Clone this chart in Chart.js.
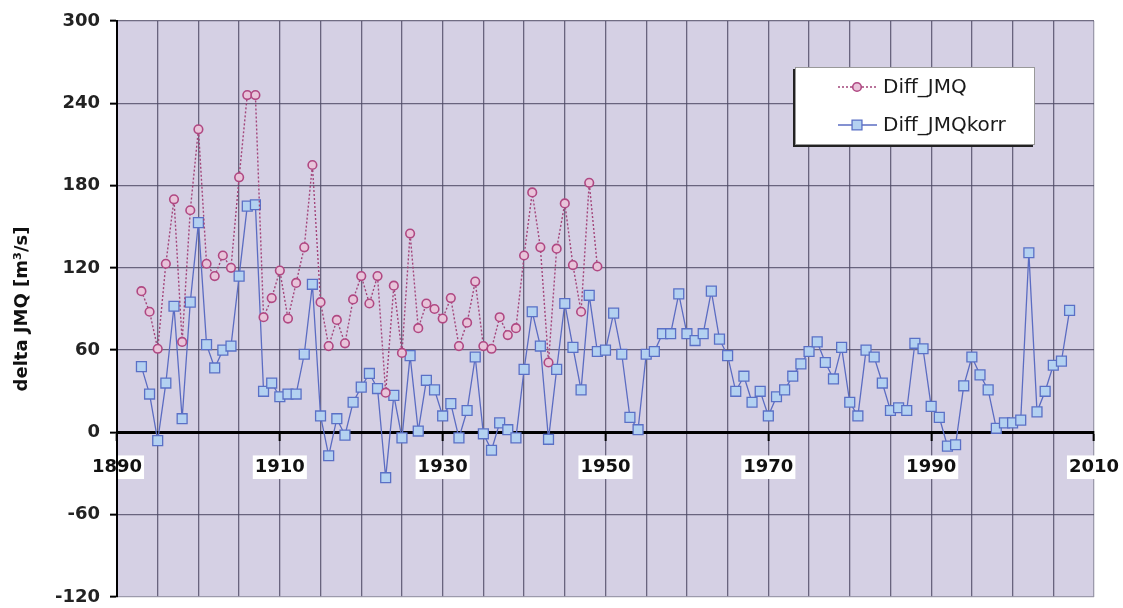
<!DOCTYPE html>
<html lang="de">
  <head>
    <meta charset="UTF-8" />
    <title>delta JMQ</title>
    <style>
      html, body { margin: 0; padding: 0; background: #fff; }
      .chart-view { width: 1123px; height: 608px; position: relative; }
    </style>
  </head>
  <body>
    <div class="chart-view">
      <canvas id="chart"></canvas>
    </div>

    <script src="https://cdn.jsdelivr.net/npm/chart.js@4.4.1/dist/chart.umd.min.js"></script>
    <script>
      //data
      const jmqStart = 1893;
      const diffJmq = [
        103, 88, 61, 123, 170, 66, 162, 221, 123, 114,
        129, 120, 186, 246, 246, 84, 98, 118, 83, 109,
        135, 195, 95, 63, 82, 65, 97, 114, 94, 114,
        29, 107, 58, 145, 76, 94, 90, 83, 98, 63,
        80, 110, 63, 61, 84, 71, 76, 129, 175, 135,
        51, 134, 167, 122, 88, 182, 121
      ];

      const korrStart = 1893;
      const diffJmqKorr = [
        48, 28, -6, 36, 92, 10, 95, 153, 64, 47,
        60, 63, 114, 165, 166, 30, 36, 26, 28, 28,
        57, 108, 12, -17, 10, -2, 22, 33, 43, 32,
        -33, 27, -4, 56, 1, 38, 31, 12, 21, -4,
        16, 55, -1, -13, 7, 2, -4, 46, 88, 63,
        -5, 46, 94, 62, 31, 100, 59, 60, 87, 57,
        11, 2, 57, 59, 72, 72, 101, 72, 67, 72,
        103, 68, 56, 30, 41, 22, 30, 12, 26, 31,
        41, 50, 59, 66, 51, 39, 62, 22, 12, 60,
        55, 36, 16, 18, 16, 65, 61, 19, 11, -10,
        -9, 34, 55, 42, 31, 3, 7, 7, 9, 131,
        15, 30, 49, 52, 89
      ];

      const seriesNames = ['Diff_JMQ', 'Diff_JMQkorr'];
      const yTitle = 'delta JMQ [m³/s]';

      const toPoints = (start, values) => values.map((v, i) => ({ x: start + i, y: v }));

      const gridColor = 'rgba(78, 72, 100, 0.8)';
      const edgeColor = 'rgba(150, 148, 165, 0.9)';
      const isLabelYear = (v) => (v - 1890) % 20 === 0;

      // plot background
      const plotBg = {
        id: 'plotBg',
        beforeDraw(chart) {
          const { ctx, chartArea: a } = chart;
          ctx.save();
          ctx.fillStyle = '#d5d0e4';
          ctx.fillRect(a.left, a.top, a.right - a.left, a.bottom - a.top);
          ctx.restore();
        }
      };

      // excel-like legend box inside the plot
      const boxLegend = {
        id: 'boxLegend',
        afterDraw(chart) {
          const { ctx } = chart;
          const x0 = 795, y0 = 67, w = 240, h = 78;
          ctx.save();
          ctx.fillStyle = '#222';
          ctx.fillRect(x0 - 2, y0 + 2, w, h);
          ctx.fillStyle = '#fff';
          ctx.fillRect(x0, y0, w, h);
          ctx.strokeStyle = '#999';
          ctx.lineWidth = 1;
          ctx.strokeRect(x0 + 0.5, y0 + 0.5, w - 1, h - 1);

          const rows = [87, 125];
          chart.data.datasets.forEach((ds, i) => {
            const y = rows[i];
            ctx.beginPath();
            ctx.setLineDash(ds.borderDash || []);
            ctx.strokeStyle = ds.borderColor;
            ctx.lineWidth = ds.borderWidth;
            ctx.moveTo(838, y);
            ctx.lineTo(877, y);
            ctx.stroke();
            ctx.setLineDash([]);
            ctx.fillStyle = ds.pointBackgroundColor;
            ctx.strokeStyle = ds.pointBorderColor;
            ctx.lineWidth = ds.pointBorderWidth;
            Chart.helpers.drawPoint(ctx, {
              pointStyle: ds.pointStyle,
              radius: ds.pointRadius,
              borderWidth: ds.pointBorderWidth
            }, 857, y);
            ctx.fillStyle = '#1a1a1a';
            ctx.font = '20px "DejaVu Sans"';
            ctx.textBaseline = 'middle';
            ctx.fillText(ds.label, 883, y + 1);
          });
          ctx.restore();
        }
      };

      //config
      const config = {
        type: 'line',
        data: {
          datasets: [
            {
              label: seriesNames[0],
              data: toPoints(jmqStart, diffJmq),
              borderColor: '#a3457a',
              borderWidth: 1.4,
              borderDash: [2, 2],
              pointStyle: 'circle',
              pointRadius: 4.3,
              pointBorderWidth: 1.6,
              pointBorderColor: '#b04882',
              pointBackgroundColor: '#e8c4da',
              tension: 0
            },
            {
              label: seriesNames[1],
              data: toPoints(korrStart, diffJmqKorr),
              borderColor: '#5b6cc2',
              borderWidth: 1.3,
              pointStyle: 'rect',
              pointRadius: 7,
              pointBorderWidth: 1.3,
              pointBorderColor: '#5a70c6',
              pointBackgroundColor: '#b3d1f1',
              tension: 0
            }
          ]
        },
        options: {
          responsive: true,
          maintainAspectRatio: false,
          animation: false,
          layout: { padding: { left: 0, top: 21, right: 29, bottom: 11 } },
          plugins: {
            legend: { display: false },
            tooltip: { enabled: false }
          },
          scales: {
            x: {
              type: 'linear',
              position: { y: 0 },
              min: 1890,
              max: 2010,
              border: { color: '#000', width: 3 },
              grid: {
                color: (c) => (c.tick && c.tick.value === 2010 ? edgeColor : gridColor),
                lineWidth: 1.3,
                tickLength: 7,
                tickWidth: 2,
                tickColor: (c) => (c.tick && isLabelYear(c.tick.value) ? '#000' : 'rgba(0,0,0,0)')
              },
              ticks: {
                stepSize: 5,
                autoSkip: false,
                maxRotation: 0,
                padding: 17,
                color: '#111',
                font: { family: 'DejaVu Sans', size: 18, weight: 'bold' },
                callback: (v) => (isLabelYear(v) ? String(v) : ''),
                showLabelBackdrop: (c) => !!(c.tick && isLabelYear(c.tick.value)),
                backdropColor: '#fff',
                backdropPadding: { x: 2, y: 1 }
              },
              afterFit(scale) {
                scale.paddingLeft = 0;
                scale.paddingRight = 0;
                scale.paddingTop = 0;
                scale.paddingBottom = 0;
              }
            },
            y: {
              min: -120,
              max: 300,
              border: { color: '#000', width: 2 },
              grid: {
                color: (c) => (c.tick && c.tick.value === -120 ? edgeColor : gridColor),
                lineWidth: 1.3,
                tickLength: 7,
                tickWidth: 2,
                tickColor: '#000'
              },
              ticks: {
                stepSize: 60,
                padding: 10,
                color: '#222',
                font: { family: 'DejaVu Sans', size: 18, weight: 'bold' }
              },
              title: {
                display: true,
                text: yTitle,
                color: '#111',
                padding: { top: 12, bottom: 0 },
                font: { family: 'DejaVu Sans', size: 18, weight: 'bold' }
              },
              afterFit(scale) {
                scale.width = 117;
                scale.paddingTop = 0;
                scale.paddingBottom = 0;
              }
            }
          }
        },
        plugins: [plotBg, boxLegend]
      };

      //init
      const ctx = document.getElementById('chart');
      const chart = new Chart(ctx, config);
    </script>
  </body>
</html>
